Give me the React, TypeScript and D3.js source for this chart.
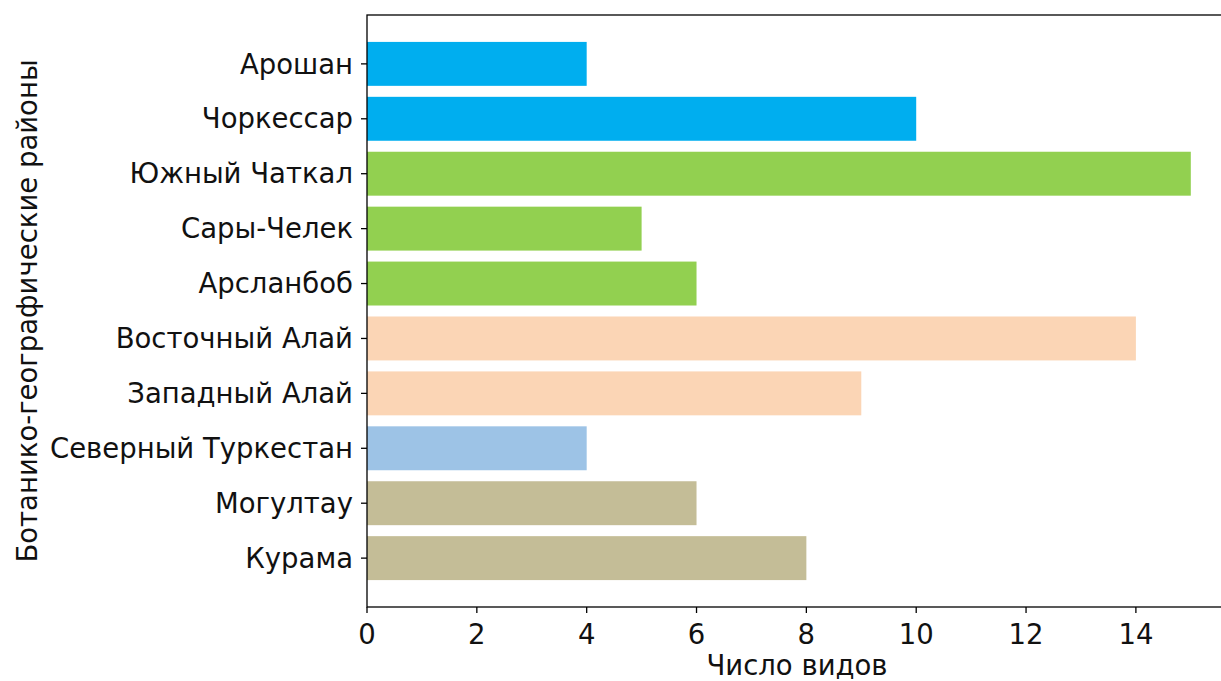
import * as d3 from 'd3';

const regions = [
  'Арошан',
  'Чоркессар',
  'Южный Чаткал',
  'Сары-Челек',
  'Арсланбоб',
  'Восточный Алай',
  'Западный Алай',
  'Северный Туркестан',
  'Могултау',
  'Курама',
];
const speciesCount = [4, 10, 15, 5, 6, 14, 9, 4, 6, 8];
const barColors = [
  '#00aeef', '#00aeef',
  '#92d050', '#92d050', '#92d050',
  '#fbd5b5', '#fbd5b5',
  '#9dc3e6',
  '#c4bd97', '#c4bd97',
];
const xTicks = [0, 2, 4, 6, 8, 10, 12, 14];

const W = 1221;
const H = 681;
const margin = { left: 367, right: -11, top: 15, bottom: 74 };
const font = '"DejaVu Sans", sans-serif';
const fs = 27.5;

export default function App() {
  const innerW = W - margin.left - margin.right;
  const innerH = H - margin.top - margin.bottom;

  const x = d3.scaleLinear().domain([0, 15.75]).range([0, innerW]);
  // matplotlib-style categorical axis: index positions with 5% padding
  const n = regions.length;
  const y = d3.scaleLinear()
    .domain([-0.4 - 0.49, n - 1 + 0.4 + 0.49])
    .range([0, innerH]);
  const barH = y(0.8) - y(0);

  return (
    <svg width={W} height={H} style={{ position: 'absolute', left: 0, top: 0, background: '#fff' }}>
      <g transform={`translate(${margin.left},${margin.top})`}>
        {regions.map((r, i) => (
          <rect
            key={r}
            x={x(0)}
            y={y(i) - barH / 2}
            width={x(speciesCount[i]) - x(0)}
            height={barH}
            fill={barColors[i]}
          />
        ))}

        {/* spines */}
        <rect x={0} y={0} width={innerW} height={innerH} fill="none" stroke="#000" strokeWidth={1.3} />

        {/* x ticks */}
        {xTicks.map(t => (
          <g key={t} transform={`translate(${x(t)},${innerH})`}>
            <line y2={6} stroke="#000" strokeWidth={1.3} />
            <text y={37} textAnchor="middle" fontFamily={font} fontSize={fs} fill="#111">{t}</text>
          </g>
        ))}

        {/* y ticks */}
        {regions.map((r, i) => (
          <g key={r} transform={`translate(0,${y(i)})`}>
            <line x2={-6} stroke="#000" strokeWidth={1.3} />
            <text x={-14} dy="0.35em" textAnchor="end" fontFamily={font} fontSize={fs} fill="#111">{r}</text>
          </g>
        ))}
      </g>

      <text x={797} y={675} textAnchor="middle" fontFamily={font} fontSize={fs} fill="#111">Число видов</text>
      <text
        transform={`translate(37,${margin.top + innerH / 2}) rotate(-90)`}
        textAnchor="middle"
        fontFamily={font}
        fontSize={fs}
        fill="#111"
      >
        Ботанико-географические районы
      </text>
    </svg>
  );
}
